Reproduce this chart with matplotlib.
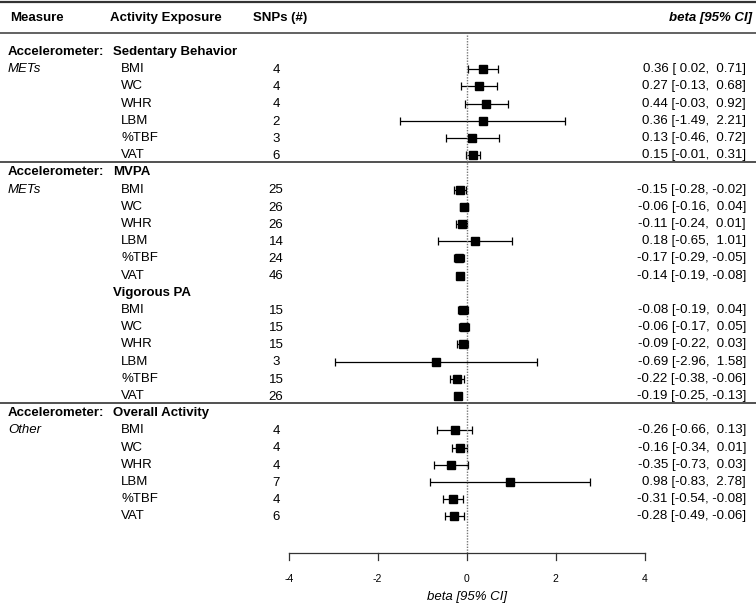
import matplotlib
matplotlib.use("Agg")
import matplotlib.pyplot as plt
import matplotlib.transforms as mtransforms

plt.rcParams['font.family'] = ['Liberation Sans', 'DejaVu Sans']

outcomes = ["BMI", "WC", "WHR", "LBM", "%TBF", "VAT"]

sed_est = [0.36, 0.27, 0.44, 0.36, 0.13, 0.15]
sed_lo = [0.02, -0.13, -0.03, -1.49, -0.46, -0.01]
sed_hi = [0.71, 0.68, 0.92, 2.21, 0.72, 0.31]
sed_snps = [4, 4, 4, 2, 3, 6]

mvpa_est = [-0.15, -0.06, -0.11, 0.18, -0.17, -0.14]
mvpa_lo = [-0.28, -0.16, -0.24, -0.65, -0.29, -0.19]
mvpa_hi = [-0.02, 0.04, 0.01, 1.01, -0.05, -0.08]
mvpa_snps = [25, 26, 26, 14, 24, 46]

vig_est = [-0.08, -0.06, -0.09, -0.69, -0.22, -0.19]
vig_lo = [-0.19, -0.17, -0.22, -2.96, -0.38, -0.25]
vig_hi = [0.04, 0.05, 0.03, 1.58, -0.06, -0.13]
vig_snps = [15, 15, 15, 3, 15, 26]

ovr_est = [-0.26, -0.16, -0.35, 0.98, -0.31, -0.28]
ovr_lo = [-0.66, -0.34, -0.73, -0.83, -0.54, -0.49]
ovr_hi = [0.13, 0.01, 0.03, 2.78, -0.08, -0.06]
ovr_snps = [4, 4, 4, 7, 4, 6]

xticks = [-4, -2, 0, 2, 4]

groups = [
    ("Accelerometer:", "METs", "Sedentary Behavior", sed_est, sed_lo, sed_hi, sed_snps),
    ("Accelerometer:", "METs", "MVPA", mvpa_est, mvpa_lo, mvpa_hi, mvpa_snps),
    (None, None, "Vigorous PA", vig_est, vig_lo, vig_hi, vig_snps),
    ("Accelerometer:", "Other", "Overall Activity", ovr_est, ovr_lo, ovr_hi, ovr_snps),
]

W, H = 756, 606
fig = plt.figure(figsize=(W / 100, H / 100), dpi=100)
ax = fig.add_axes([0, 0, 1, 1])
x0px, scale = 466.7, 44.5
y0px, step = 52.0, 17.2
ax.set_xlim(-x0px / scale, (W - x0px) / scale)
ax.set_ylim((H - y0px) / step, -y0px / step)
ax.axis("off")

tr = mtransforms.blended_transform_factory(ax.transAxes, ax.transData)
def fx(p):
    return p / W

fs = 9.5
dark = "#333333"

ax.text(fx(10), -2, "Measure", transform=tr, fontsize=fs, fontweight="bold", va="center", ha="left")
ax.text(fx(110), -2, "Activity Exposure", transform=tr, fontsize=fs, fontweight="bold", va="center", ha="left")
ax.text(fx(253), -2, "SNPs (#)", transform=tr, fontsize=fs, fontweight="bold", va="center", ha="left")
ax.text(fx(752), -2, "beta [95% CI]", transform=tr, fontsize=fs, fontweight="bold",
        fontstyle="italic", va="center", ha="right")
ax.plot([0, 1], [-2.9, -2.9], transform=tr, color=dark, lw=1.6, clip_on=False)
ax.plot([0, 1], [-1.1, -1.1], transform=tr, color="#555555", lw=1.3, clip_on=False)

row = 0
for gi, (meas, sub, title, est, lo, hi, snps) in enumerate(groups):
    if meas:
        ax.text(fx(8), row, meas, transform=tr, fontsize=fs, fontweight="bold", va="center", ha="left")
    ax.text(fx(113), row, title, transform=tr, fontsize=fs, fontweight="bold", va="center", ha="left")
    if sub:
        ax.text(fx(8), row + 1, sub, transform=tr, fontsize=fs, fontstyle="italic", va="center", ha="left")
    for i, name in enumerate(outcomes):
        r = row + 1 + i
        ax.text(fx(121), r, name, transform=tr, fontsize=fs, va="center", ha="left")
        ax.text(fx(276), r + 0.05, str(snps[i]), transform=tr, fontsize=fs, va="center", ha="center")
        lab = f"{est[i]:.2f} [{lo[i]:5.2f}, {hi[i]:5.2f}]"
        ax.text(fx(746), r, lab, transform=tr, fontsize=fs, va="center", ha="right")
        ax.errorbar(est[i], r, xerr=[[est[i] - lo[i]], [hi[i] - est[i]]], fmt="s",
                    color="black", ms=5.5, elinewidth=0.9, capsize=2.6, capthick=0.9)
    row += 7
    if gi in (0, 2):
        yl = row - 0.6
        ax.plot([0, 1], [yl, yl], transform=tr, color=dark, lw=1.2, clip_on=False)

yaxis = (553 - y0px) / step
ax.plot([0, 0], [-1.0, yaxis], color="#777777", lw=1.0, ls=(0, (1, 1)))

ax.plot([xticks[0], xticks[-1]], [yaxis, yaxis], color=dark, lw=0.9)
tick_len = 7 / step
for t in xticks:
    ax.plot([t, t], [yaxis, yaxis + tick_len], color=dark, lw=0.9)
    ax.text(t, (579 - y0px) / step, f"{t:g}", fontsize=7.5, ha="center", va="center")
ax.text(0, (597 - y0px) / step, "beta [95% CI]", fontsize=fs, fontstyle="italic", ha="center", va="center")

fig.savefig("out.png", dpi=100)
